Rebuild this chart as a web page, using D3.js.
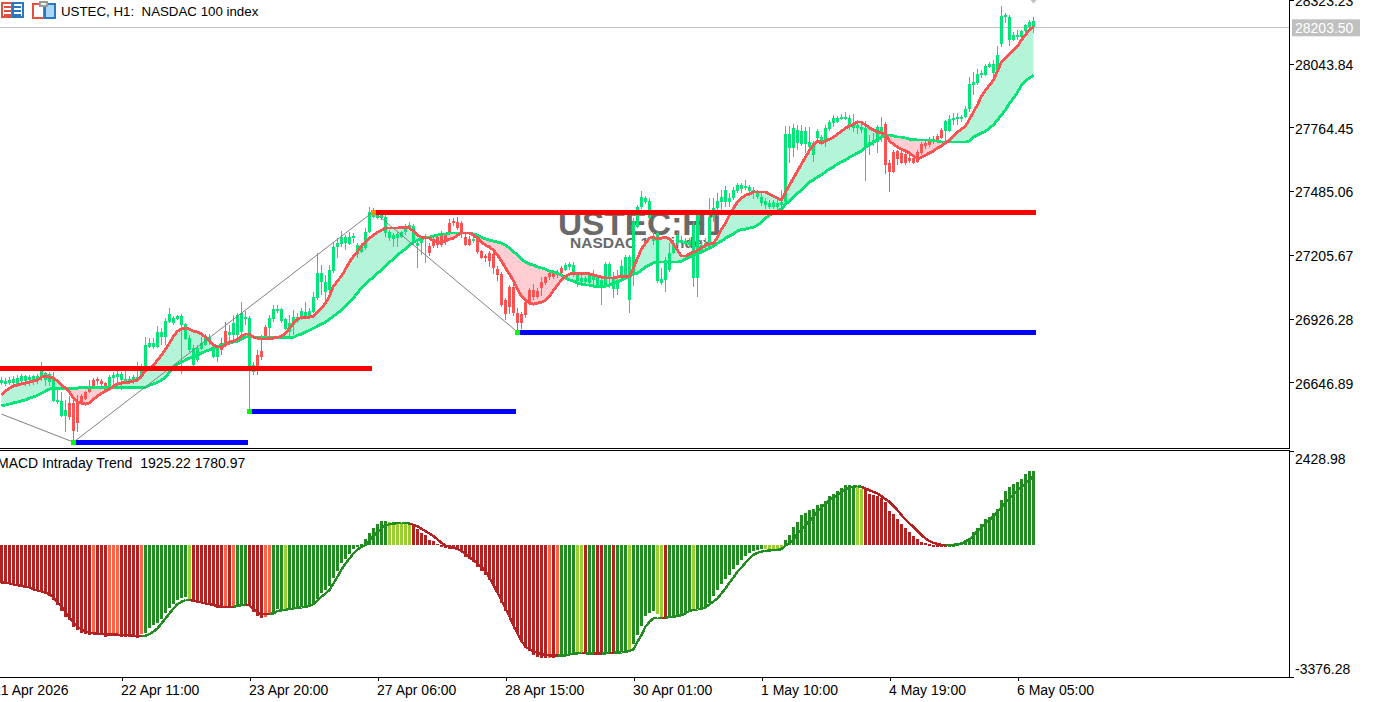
<!DOCTYPE html>
<html>
<head>
<meta charset="utf-8">
<title>USTEC H1</title>
<script src="https://cdn.jsdelivr.net/npm/d3@7/dist/d3.min.js"></script>
<style>
  html, body { margin: 0; padding: 0; background: #fff; overflow: hidden; }
  svg { display: block; }
  text { font-family: "Liberation Sans", Arial, sans-serif; }
  .axis text { font-size: 14px; fill: #000; }
  .axis line { stroke: #000; shape-rendering: crispEdges; }
</style>
</head>
<body>
<svg id="chart" width="1374" height="702"></svg>
<script>
// USTEC hourly candles, one entry per bar.
const highs = [
26669,26665,26669,26674,26678,26682,26678,26678,26678,26682,
26735,26691,26691,26691,26612,26603,26569,26586,26569,26590,
26595,26608,26656,26665,26669,26660,26647,26678,26691,26696,
26691,26696,26674,26678,26735,26726,26844,26840,26840,26893,
26884,26928,26972,26937,26941,26945,26906,26853,26810,26810,
26844,26857,26857,26810,26810,26840,26910,26897,26941,26950,
26998,26959,26937,26735,26788,26853,26897,26941,26985,26985,
26972,26928,26941,26963,26950,26972,26998,26972,27042,27213,
27161,27117,27161,27261,27279,27310,27292,27305,27301,27257,
27257,27323,27415,27411,27402,27393,27380,27314,27301,27305,
27310,27341,27349,27341,27270,27288,27297,27257,27283,27292,
27310,27301,27362,27367,27371,27354,27301,27288,27288,27279,
27226,27209,27222,27218,27157,27130,27016,27073,27095,26972,
26954,27007,27060,27077,27060,27108,27112,27139,27139,27139,
27157,27170,27174,27174,27130,27117,27112,27130,27139,27117,
27104,27174,27174,27130,27139,27183,27205,27205,27367,27424,
27485,27463,27454,27305,27314,27148,27196,27257,27270,27305,
27288,27279,27279,27349,27393,27270,27279,27454,27454,27476,
27490,27507,27476,27503,27521,27521,27534,27512,27503,27490,
27481,27454,27446,27446,27454,27490,27770,27770,27779,27775,
27775,27766,27766,27705,27757,27731,27775,27797,27819,27814,
27823,27832,27819,27823,27797,27779,27792,27731,27740,27775,
27810,27788,27621,27665,27665,27661,27656,27643,27643,27665,
27700,27705,27722,27727,27735,27762,27797,27819,27827,27827,
27819,27858,27985,28007,28020,28016,28042,28051,28060,28121,
28297,28266,28257,28183,28192,28192,28218,28235,28248
];
const lows = [
26634,26630,26634,26630,26630,26639,26630,26630,26634,26639,
26652,26630,26630,26560,26551,26494,26428,26481,26389,26428,
26547,26569,26599,26621,26634,26630,26599,26612,26621,26639,
26612,26639,26639,26639,26647,26660,26691,26797,26792,26797,
26810,26810,26906,26897,26919,26682,26832,26779,26718,26735,
26788,26805,26810,26753,26735,26766,26810,26810,26832,26844,
26832,26897,26520,26678,26678,26744,26840,26840,26910,26950,
26906,26875,26844,26853,26906,26919,26928,26928,26950,27007,
27029,26998,27042,27125,27191,27240,27226,27248,27257,27191,
27213,27226,27301,27367,27362,27358,27283,27266,27240,27240,
27279,27292,27323,27248,27148,27205,27170,27200,27235,27235,
27240,27248,27292,27332,27314,27279,27244,27244,27257,27209,
27187,27174,27152,27121,27091,26976,26919,26945,26937,26862,
26880,26928,26985,27007,27011,27024,27073,27095,27099,27104,
27112,27134,27139,27108,27064,27073,27073,27073,27068,27060,
26985,27060,27060,27016,27029,27095,27104,26950,27068,27323,
27406,27428,27358,27248,27082,27073,27042,27130,27209,27248,
27248,27244,27240,27064,27020,27209,27226,27226,27349,27376,
27393,27415,27415,27446,27476,27476,27490,27463,27450,27450,
27420,27406,27406,27406,27406,27406,27428,27608,27634,27665,
27683,27652,27674,27613,27709,27696,27678,27748,27766,27784,
27797,27797,27753,27744,27735,27740,27529,27643,27683,27652,
27700,27560,27481,27564,27599,27604,27599,27608,27604,27608,
27643,27669,27678,27691,27696,27713,27705,27744,27775,27775,
27788,27806,27832,27906,27950,27981,27990,28025,27981,27998,
28117,28222,28121,28143,28148,28156,28178,28200,28178
];
const opens = [
26643,26639,26643,26643,26639,26652,26652,26656,26656,26652,
26665,26656,26647,26565,26560,26499,26499,26556,26556,26556,
26586,26603,26630,26656,26660,26652,26643,26625,26665,26669,
26656,26652,26652,26652,26660,26669,26700,26801,26801,26801,
26844,26844,26910,26906,26923,26897,26836,26788,26722,26744,
26792,26810,26832,26757,26757,26818,26871,26853,26853,26853,
26867,26923,26718,26691,26766,26783,26888,26884,26923,26959,
26915,26880,26867,26897,26915,26932,26932,26932,26954,27016,
27086,27042,27051,27134,27240,27253,27257,27253,27279,27209,
27218,27235,27305,27371,27367,27367,27301,27279,27275,27279,
27283,27305,27327,27257,27244,27257,27275,27244,27275,27283,
27301,27292,27345,27354,27349,27345,27283,27275,27266,27275,
27222,27200,27213,27209,27143,27121,27007,27064,27064,26950,
26945,26998,27051,27051,27047,27086,27108,27125,27125,27130,
27148,27139,27152,27117,27091,27086,27086,27082,27095,27073,
27073,27073,27104,27055,27055,27112,27112,27007,27125,27327,
27415,27437,27367,27266,27091,27082,27095,27139,27213,27257,
27257,27253,27248,27104,27104,27218,27240,27240,27371,27411,
27437,27437,27437,27454,27485,27494,27499,27485,27476,27459,
27433,27424,27415,27415,27415,27424,27437,27674,27674,27696,
27691,27691,27678,27643,27718,27700,27709,27757,27784,27788,
27801,27801,27766,27762,27762,27753,27678,27683,27696,27700,
27744,27779,27608,27656,27661,27652,27648,27630,27630,27656,
27691,27696,27709,27713,27727,27753,27748,27748,27797,27801,
27801,27810,27845,27950,27959,27994,27994,28029,28003,28007,
28130,28248,28148,28148,28161,28161,28187,28205,28205
];
const closes = [
26656,26652,26656,26660,26665,26674,26674,26669,26674,26674,
26696,26687,26682,26669,26569,26565,26525,26494,26433,26468,
26556,26573,26603,26625,26652,26639,26603,26669,26678,26682,
26682,26660,26660,26669,26669,26700,26810,26818,26818,26867,
26867,26915,26945,26928,26937,26937,26902,26840,26797,26797,
26818,26849,26844,26797,26801,26788,26818,26867,26906,26941,
26950,26932,26928,26722,26713,26757,26844,26928,26967,26967,
26967,26923,26906,26932,26932,26959,26954,26959,27020,27125,
27125,27086,27139,27240,27257,27283,27283,27283,27288,27248,
27248,27305,27393,27393,27385,27380,27371,27305,27292,27297,
27305,27327,27336,27332,27257,27279,27288,27213,27244,27248,
27248,27261,27301,27345,27323,27301,27248,27248,27275,27218,
27191,27196,27178,27148,27117,26985,26945,26976,26950,26906,
26906,26941,26994,27020,27020,27060,27082,27108,27108,27117,
27125,27161,27165,27161,27121,27104,27104,27125,27112,27108,
27095,27165,27165,27104,27095,27157,27196,27196,27349,27415,
27459,27454,27441,27288,27301,27099,27183,27213,27257,27292,
27270,27266,27266,27336,27380,27248,27257,27371,27411,27441,
27459,27490,27454,27490,27512,27512,27507,27503,27490,27476,
27459,27441,27433,27437,27433,27437,27735,27735,27762,27753,
27748,27748,27700,27696,27748,27722,27762,27788,27806,27806,
27810,27810,27806,27784,27775,27766,27762,27700,27709,27766,
27766,27599,27569,27569,27626,27608,27608,27617,27608,27612,
27652,27683,27687,27700,27700,27718,27792,27801,27806,27810,
27810,27845,27955,27963,27998,28003,28033,28042,28042,28082,
28253,28257,28248,28170,28170,28187,28213,28227,28231
];

// Fast and slow moving averages, one value per bar.
const fastMA = [
26590,26608,26621,26630,26634,26639,26643,26647,26652,26656,
26669,26674,26669,26665,26652,26634,26621,26603,26577,26560,
26556,26551,26556,26573,26586,26599,26608,26617,26630,26639,
26643,26647,26647,26652,26656,26674,26696,26709,26722,26744,
26766,26792,26818,26849,26871,26880,26884,26880,26871,26867,
26858,26844,26827,26810,26801,26801,26810,26823,26827,26836,
26849,26858,26858,26844,26840,26836,26836,26840,26840,26844,
26849,26862,26884,26906,26923,26932,26932,26932,26937,26954,
26972,26994,27024,27068,27091,27112,27143,27174,27200,27218,
27244,27261,27279,27292,27305,27314,27323,27323,27323,27323,
27327,27327,27323,27310,27292,27283,27279,27279,27266,27261,
27261,27266,27275,27279,27292,27301,27301,27301,27292,27279,
27261,27248,27240,27226,27205,27178,27148,27121,27091,27055,
27024,27007,26994,26989,26994,26998,27007,27024,27051,27073,
27095,27112,27121,27125,27125,27125,27125,27121,27117,27112,
27108,27104,27104,27104,27108,27112,27112,27112,27148,27191,
27231,27257,27279,27283,27275,27279,27283,27275,27253,27226,
27200,27200,27209,27218,27226,27235,27248,27253,27257,27283,
27318,27345,27380,27411,27437,27454,27468,27472,27481,27481,
27481,27481,27472,27463,27454,27446,27481,27512,27542,27573,
27604,27634,27665,27687,27705,27696,27705,27713,27722,27735,
27748,27762,27770,27779,27788,27788,27775,27762,27753,27744,
27740,27735,27705,27691,27678,27669,27661,27652,27639,27626,
27634,27643,27652,27661,27674,27683,27696,27709,27727,27744,
27757,27770,27801,27832,27863,27902,27928,27950,27972,28012,
28051,28069,28086,28104,28121,28148,28170,28192,28205
];
const slowMA = [
26543,26547,26551,26556,26560,26565,26569,26577,26582,26590,
26599,26608,26617,26621,26621,26621,26621,26621,26621,26621,
26625,26625,26625,26625,26625,26625,26625,26625,26625,26625,
26625,26625,26625,26625,26625,26625,26625,26634,26639,26647,
26656,26669,26691,26709,26726,26735,26744,26753,26757,26766,
26775,26783,26788,26797,26801,26810,26814,26818,26823,26827,
26836,26844,26849,26844,26844,26844,26844,26844,26844,26844,
26844,26844,26844,26844,26853,26858,26867,26875,26884,26893,
26902,26910,26923,26937,26950,26963,26981,26998,27016,27038,
27060,27077,27095,27108,27125,27139,27157,27174,27187,27205,
27218,27231,27248,27261,27270,27275,27283,27283,27288,27292,
27297,27297,27301,27301,27301,27301,27301,27301,27297,27292,
27283,27275,27270,27266,27261,27257,27248,27235,27218,27205,
27187,27174,27165,27161,27152,27148,27143,27134,27130,27125,
27117,27104,27095,27091,27082,27077,27073,27073,27068,27068,
27068,27068,27073,27082,27086,27095,27104,27112,27121,27125,
27139,27152,27161,27170,27174,27174,27174,27174,27174,27174,
27178,27187,27196,27205,27213,27218,27226,27235,27244,27257,
27266,27279,27288,27297,27310,27318,27318,27323,27327,27336,
27349,27367,27380,27389,27398,27406,27428,27441,27459,27476,
27490,27507,27525,27534,27547,27556,27569,27582,27591,27604,
27613,27621,27634,27643,27652,27661,27678,27687,27700,27709,
27722,27731,27731,27727,27722,27722,27718,27713,27713,27709,
27709,27709,27709,27705,27705,27700,27700,27700,27700,27700,
27700,27700,27705,27722,27731,27740,27748,27762,27775,27797,
27819,27841,27871,27893,27919,27950,27968,27981,27994
];

// Channel levels and zigzag pivots, addressed by bar number.
const resistanceBars = [-2, 93];
const resistanceEnds = [93, 259];
const resistancePrices = [26709, 27395];
const supportBars = [18, 62, 129];
const supportEnds = [62, 129, 259];
const supportPrices = [26384, 26520, 26867];
const zigzagBars = [0, 18, 93, 129];
const zigzagPrices = [26507, 26384, 27395, 26867];
const lastBid = 28203.50;

// MACD Intraday Trend histogram and signal line, one value per bar.
const macdHist = [
-959,-976,-1002,-1019,-1044,-1044,-1079,-1104,-1147,-1164,
-1190,-1216,-1293,-1404,-1532,-1686,-1832,-1917,-2089,-2174,
-2243,-2286,-2303,-2286,-2286,-2286,-2345,-2303,-2286,-2303,
-2345,-2345,-2345,-2363,-2371,-2286,-2260,-2131,-2046,-1986,
-1900,-1746,-1618,-1507,-1404,-1361,-1318,-1378,-1464,-1464,
-1489,-1507,-1507,-1507,-1618,-1618,-1618,-1618,-1618,-1532,
-1507,-1507,-1558,-1703,-1806,-1858,-1832,-1746,-1721,-1644,
-1644,-1644,-1644,-1618,-1592,-1575,-1558,-1532,-1489,-1378,
-1233,-1147,-1044,-847,-651,-462,-360,-223,-103,-9,
26,154,308,437,548,633,625,616,599,582,
582,582,565,522,419,325,265,137,120,43,
-34,-77,-94,-94,-120,-163,-291,-360,-419,-548,
-659,-762,-890,-1019,-1190,-1489,-1686,-1832,-2071,-2285,
-2474,-2628,-2705,-2816,-2876,-2885,-2885,-2885,-2885,-2859,
-2833,-2833,-2816,-2799,-2773,-2756,-2799,-2790,-2773,-2799,
-2799,-2773,-2756,-2756,-2756,-2748,-2705,-2688,-2534,-2303,
-2071,-1815,-1729,-1686,-1763,-1832,-1857,-1832,-1849,-1832,
-1789,-1772,-1703,-1643,-1626,-1618,-1592,-1472,-1301,-1147,
-993,-873,-762,-616,-505,-377,-274,-188,-146,-120,
-103,-103,-94,-94,-94,-86,137,265,479,608,
779,847,907,950,1053,1079,1138,1267,1335,1404,
1489,1549,1549,1532,1507,1464,1464,1335,1293,1267,
1233,1121,882,805,668,565,437,351,240,154,
94,51,34,-17,-34,-34,-51,-9,9,34,
51,111,180,342,462,565,668,736,847,950,
1181,1395,1507,1575,1635,1721,1832,1909,1925.22
];
const macdSignal = [
-950,-959,-976,-1002,-1019,-1044,-1061,-1079,-1130,-1156,
-1181,-1216,-1258,-1335,-1472,-1575,-1703,-1858,-1986,-2089,
-2157,-2208,-2243,-2260,-2268,-2277,-2286,-2286,-2286,-2294,
-2303,-2303,-2311,-2320,-2328,-2328,-2320,-2277,-2217,-2131,
-2003,-1875,-1746,-1618,-1507,-1447,-1404,-1404,-1421,-1447,
-1464,-1489,-1507,-1532,-1566,-1575,-1575,-1575,-1575,-1558,
-1532,-1515,-1541,-1644,-1721,-1763,-1763,-1763,-1746,-1686,
-1669,-1652,-1635,-1618,-1601,-1592,-1575,-1558,-1507,-1421,
-1318,-1233,-1147,-976,-805,-616,-462,-334,-205,-103,
-34,9,137,240,351,437,514,548,565,574,
582,582,565,531,496,428,368,308,240,154,
68,0,-34,-60,-94,-146,-223,-308,-385,-462,
-548,-659,-822,-1019,-1216,-1421,-1618,-1832,-2071,-2260,
-2448,-2602,-2671,-2722,-2765,-2791,-2816,-2825,-2833,-2833,
-2833,-2825,-2799,-2791,-2773,-2765,-2773,-2773,-2773,-2773,
-2773,-2773,-2765,-2756,-2756,-2748,-2731,-2714,-2671,-2474,
-2303,-2089,-1960,-1875,-1858,-1858,-1858,-1840,-1832,-1815,
-1789,-1746,-1678,-1661,-1644,-1626,-1592,-1515,-1438,-1361,
-1233,-1104,-959,-822,-676,-565,-445,-334,-240,-188,
-154,-137,-128,-120,-111,-94,0,68,154,308,
411,522,633,736,865,976,1061,1164,1233,1293,
1370,1438,1489,1515,1524,1507,1464,1421,1378,1335,
1267,1190,1121,1010,907,779,668,565,479,368,
265,180,111,68,43,17,9,9,17,34,
51,111,154,265,368,462,565,651,753,865,
976,1096,1207,1310,1421,1507,1592,1678,1780.97
];
// Histogram state runs: falling, easing, rising, fading.
const histPhaseRuns = [
["fall",23],["ease",1],["fall",3],["ease",3],["fall",5],["ease",1],
["rise",11],["fade",1],["fall",8],["ease",1],["fall",1],["ease",1],
["rise",3],["fall",4],["ease",2],["rise",3],["fade",1],["rise",25],
["fade",6],["fall",34],["ease",1],["fall",1],["ease",1],["rise",4],
["fade",2],["fall",1],["rise",2],["fall",2],["rise",2],["fall",1],
["rise",3],["fade",1],["rise",6],["fade",2],["fall",1],["rise",6],
["fade",1],["rise",17],["fade",5],["rise",18],["fade",2],["fall",21],["rise",22]
];

// Axis labels.
const priceTicks = [28323.23, 28043.84, 27764.45, 27485.06, 27205.67, 26926.28, 26646.89];
const macdTicks = [2428.98, -3376.28];
const timeTickBars = [-2, 30, 62, 94, 126, 158, 190, 222, 254];
const timeTickLabels = ["21 Apr 2026", "22 Apr 11:00", "23 Apr 20:00", "27 Apr 06:00", "28 Apr 15:00",
                        "30 Apr 01:00", "1 May 10:00", "4 May 19:00", "6 May 05:00"];

const phaseColour = { fall: "#b22222", ease: "#ff6347", rise: "#228b22", fade: "#9acd32" };
const histPhase = histPhaseRuns.flatMap(([p, len]) => d3.range(len).map(() => p));

const bull = "#00e676", bear = "#ff5252";
const axisX = 1289.5, mainBottom = 448.5, subTop = 450.5, subBottom = 677;

const x = d3.scaleLinear().domain([0, highs.length - 1]).range([1.5, 1033.5]);
const yPrice = d3.scaleLinear().domain([28323.23, 26646.89]).range([0, 382.2]);
const yMacd = d3.scaleLinear().domain([2428.98, -3376.28]).range([451, 676.8]);

const svg = d3.select("#chart");
svg.append("defs").append("clipPath").attr("id", "mainClip")
  .append("rect").attr("x", 0).attr("y", 0).attr("width", axisX).attr("height", mainBottom - 1);
const main = svg.append("g").attr("clip-path", "url(#mainClip)");

// Symbol watermark sits behind everything else in the price pane.
main.append("text").attr("x", 558).attr("y", 235).attr("font-size", 33.4).attr("font-weight", 700)
  .attr("fill", "#696969").text("USTEC:H1");
main.append("text").attr("x", 570).attr("y", 248).attr("font-size", 15.5).attr("font-weight", 700)
  .attr("fill", "#696969").text("NASDAC 100 index");

// Last price line.
main.append("line").attr("x1", 0).attr("x2", axisX)
  .attr("y1", Math.floor(yPrice(lastBid)) + 0.5).attr("y2", Math.floor(yPrice(lastBid)) + 0.5)
  .attr("stroke", "#c0c0c0").attr("shape-rendering", "crispEdges");

// Cloud between the moving averages.
const bars = d3.range(highs.length);
const cloud = (pick) => d3.area().x(i => x(i)).y0(i => yPrice(slowMA[i])).y1(i => yPrice(pick(fastMA[i], slowMA[i])));
main.append("path").attr("d", cloud(Math.max)(bars)).attr("fill", "#b4f4d8");
main.append("path").attr("d", cloud(Math.min)(bars)).attr("fill", "#ffcdd2");

// Candles.
const candle = main.append("g").attr("shape-rendering", "crispEdges").selectAll("g").data(bars).join("g")
  .attr("fill", i => closes[i] >= opens[i] ? bull : bear);
candle.append("rect").attr("x", i => x(i) - 0.5).attr("width", 1)
  .attr("y", i => yPrice(highs[i])).attr("height", i => yPrice(lows[i]) - yPrice(highs[i]));
candle.append("rect").attr("x", i => x(i) - 1.5).attr("width", 3)
  .attr("y", i => yPrice(Math.max(opens[i], closes[i])))
  .attr("height", i => Math.max(2, Math.abs(yPrice(opens[i]) - yPrice(closes[i]))));

// Moving averages.
const maLine = (s) => d3.line().x(i => x(i)).y(i => yPrice(s[i]))(bars);
main.append("path").attr("d", maLine(slowMA)).attr("fill", "none").attr("stroke", bull)
  .attr("stroke-width", 2.8).attr("shape-rendering", "crispEdges");
main.append("path").attr("d", maLine(fastMA)).attr("fill", "none").attr("stroke", bear)
  .attr("stroke-width", 2.8).attr("shape-rendering", "crispEdges");

// Zigzag through the swing pivots.
main.append("path")
  .attr("d", d3.line().x((d, i) => x(d)).y((d, i) => yPrice(zigzagPrices[i]))(zigzagBars))
  .attr("fill", "none").attr("stroke", "#808080").attr("stroke-width", 1);

// Resistance and support segments with their pivot markers.
const level = (startBars, ends, prices, colour) => {
  main.append("g").attr("shape-rendering", "crispEdges").selectAll("rect").data(startBars).join("rect")
    .attr("x", d => x(d)).attr("width", (d, i) => x(ends[i]) - 2 - x(d))
    .attr("y", (d, i) => Math.round(yPrice(prices[i])) - 2).attr("height", 5).attr("fill", colour);
};
level(resistanceBars, resistanceEnds, resistancePrices, "#ff0000");
level(supportBars, supportEnds, supportPrices, "#0000ff");
const pivot = (barList, prices, colour) => {
  main.append("g").attr("shape-rendering", "crispEdges").selectAll("rect").data(barList).join("rect")
    .attr("x", d => x(d) - 2.5).attr("width", 5)
    .attr("y", (d, i) => Math.round(yPrice(prices[i])) - 2).attr("height", 5).attr("fill", colour);
};
pivot(supportBars, supportPrices, "#00ff00");
pivot([resistanceBars[1]], [resistancePrices[1]], "#ff8c00");

// Marker for the last bar at the top edge.
main.append("path").attr("d", `M${x(258) - 3},0H${x(258) + 3}L${x(258)},3.5Z`).attr("fill", "#c0c0c0");

// MACD pane.
const sub = svg.append("g");
sub.append("g").attr("shape-rendering", "crispEdges").selectAll("rect").data(bars).join("rect")
  .attr("x", i => x(i) - 1.5).attr("width", 3)
  .attr("y", i => Math.min(yMacd(0), yMacd(macdHist[i])))
  .attr("height", i => Math.max(1.5, Math.abs(yMacd(macdHist[i]) - yMacd(0))))
  .attr("fill", i => phaseColour[histPhase[i]]);
sub.append("g").attr("fill", "none").attr("stroke-width", 2.4).attr("shape-rendering", "crispEdges")
  .selectAll("path").data(bars.slice(1)).join("path")
  .attr("d", i => d3.line().x(j => x(j)).y(j => yMacd(macdSignal[j]))([i - 1, i]))
  .attr("stroke", i => (histPhase[i] === "fall" || histPhase[i] === "ease") ? "#b22222" : "#228b22");
sub.append("text").attr("x", -3).attr("y", 468).attr("font-size", 14).attr("fill", "#000")
  .style("white-space", "pre")
  .text("MACD Intraday Trend  1925.22 1780.97");

// Pane frames.
const frame = svg.append("g").attr("stroke", "#000").attr("shape-rendering", "crispEdges");
frame.append("line").attr("x1", 0).attr("x2", axisX).attr("y1", mainBottom).attr("y2", mainBottom);
frame.append("line").attr("x1", 0).attr("x2", axisX).attr("y1", subTop).attr("y2", subTop);
frame.append("line").attr("x1", 0).attr("x2", axisX).attr("y1", subBottom + 0.5).attr("y2", subBottom + 0.5);
frame.append("line").attr("x1", axisX).attr("x2", axisX).attr("y1", 0).attr("y2", mainBottom);
frame.append("line").attr("x1", axisX).attr("x2", axisX).attr("y1", subTop).attr("y2", subBottom);

const twoDecimals = d => d.toFixed(2);

// Price axis, with labels sitting a pixel under their ticks.
const priceAxis = svg.append("g").attr("class", "axis").attr("transform", `translate(${axisX - 0.5},0)`)
  .call(d3.axisRight(yPrice).tickValues(priceTicks).tickSize(5).tickPadding(1).tickFormat(twoDecimals));
priceAxis.select(".domain").remove();
priceAxis.selectAll("text").attr("dy", "0.42em").attr("y", 0);

// MACD axis: extreme labels are pulled inward from their ticks.
const macdAxis = svg.append("g").attr("class", "axis").attr("transform", `translate(${axisX - 0.5},0)`)
  .call(d3.axisRight(yMacd).tickValues(macdTicks).tickSize(5).tickPadding(1).tickFormat(twoDecimals));
macdAxis.select(".domain").remove();
macdAxis.selectAll("text").attr("dy", "0.42em").attr("y", d => d > 0 ? 7 : -9);

// Time axis.
const timeAxis = svg.append("g").attr("class", "axis").attr("transform", `translate(0,${subBottom})`)
  .call(d3.axisBottom(x).tickValues(timeTickBars).tickSize(4).tickFormat((d, i) => timeTickLabels[i]));
timeAxis.select(".domain").remove();
timeAxis.selectAll("text").attr("text-anchor", "start").attr("x", -1).attr("y", 7).attr("dy", "0.8em");

// Price tag for the last bid.
const tagY = yPrice(lastBid);
svg.append("rect").attr("x", 1292).attr("y", tagY - 8).attr("width", 68).attr("height", 17).attr("fill", "#c0c0c0");
svg.append("text").attr("x", 1295).attr("y", tagY + 5.5).attr("font-size", 14).attr("fill", "#fff").text(lastBid.toFixed(2));

// Chart header: the two toolbar glyphs and the symbol line.
const head = svg.append("g").attr("shape-rendering", "crispEdges");
const box = (g, xx, yy, w, h, fill, stroke) => g.append("rect").attr("x", xx + 1).attr("y", yy + 1)
  .attr("width", w).attr("height", h).attr("fill", fill).attr("stroke", stroke || "none").attr("stroke-width", 2);
box(head, 1, 2, 10, 14, "#fff", "#e2503f");
box(head, 12, 2, 10, 14, "#fff", "#2a78bd");
[6, 10, 14].forEach(yy => {
  head.append("rect").attr("x", 4).attr("y", yy).attr("width", 7).attr("height", 2).attr("fill", "#e2503f");
  head.append("rect").attr("x", 14).attr("y", yy).attr("width", 7).attr("height", 2).attr("fill", "#2a78bd");
});
box(head, 32, 3, 11, 14, "#fff", "#e2503f");
box(head, 44, 3, 10, 14, "#a9d6f7", "#2a78bd");
box(head, 39, 1, 7, 4, "#f4f4f4", "#9a9a9a");
svg.append("text").attr("x", 61).attr("y", 16).attr("font-size", 13.3).attr("fill", "#000")
  .style("white-space", "pre").text("USTEC, H1:  NASDAC 100 index");
</script>
</body>
</html>
